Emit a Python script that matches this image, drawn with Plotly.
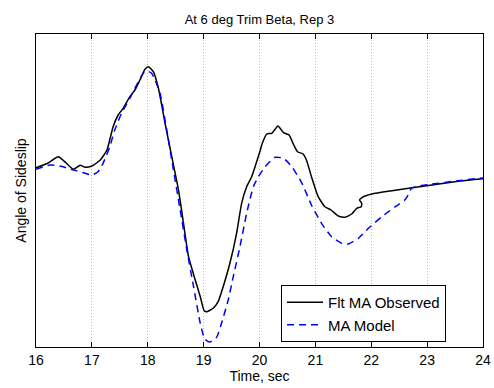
import plotly.graph_objects as go

t_obs = [16.0, 16.20, 16.40, 16.54, 16.67, 16.79, 16.88, 17.00, 17.15, 17.27, 17.38, 17.47,
         17.56, 17.68, 17.77, 17.86, 17.95, 18.01, 18.10, 18.19, 18.31, 18.43, 18.55, 18.64,
         18.73, 18.85, 18.94, 19.01, 19.06, 19.17, 19.26, 19.35, 19.47, 19.59, 19.68, 19.77,
         19.86, 19.93, 20.01, 20.05, 20.13, 20.22, 20.33, 20.43, 20.53, 20.60, 20.68, 20.78,
         20.84, 20.93, 21.05, 21.17, 21.28, 21.41, 21.53, 21.65, 21.74, 21.82, 21.83, 21.79,
         21.84, 22.01, 22.37, 22.96, 23.59, 24.00]
b_obs = [17.93, 18.35, 19.03, 18.40, 17.77, 18.17, 17.97, 18.10, 18.70, 19.70, 22.03, 23.20,
         23.87, 25.03, 25.70, 26.70, 27.77, 28.03, 27.53, 25.90, 22.37, 19.03, 15.70, 12.37,
         9.03, 6.70, 5.03, 3.63, 3.53, 3.87, 4.53, 6.03, 8.37, 11.37, 14.37, 16.03,
         17.03, 18.20, 19.60, 20.37, 21.30, 21.37, 22.10, 21.43, 21.20, 20.37, 19.53, 19.30,
         18.70, 17.03, 15.03, 14.03, 13.70, 13.10, 12.97, 13.30, 13.87, 14.03, 14.37, 14.70,
         14.97, 15.30, 15.63, 16.10, 16.60, 16.83]

# Model output
t_mod = [16.0, 16.25, 16.43, 16.67, 16.88, 17.00, 17.11, 17.20, 17.32, 17.41, 17.53, 17.68,
         17.80, 17.92, 17.98, 18.07, 18.22, 18.34, 18.46, 18.58, 18.70, 18.82, 18.94, 19.02,
         19.11, 19.23, 19.32, 19.44, 19.53, 19.65, 19.77, 19.89, 19.98, 20.10, 20.28, 20.43,
         20.58, 20.76, 20.93, 21.11, 21.29, 21.47, 21.59, 21.77, 21.95, 22.19, 22.43, 22.60,
         22.66, 22.72, 22.84, 22.96, 23.59, 24.00]
b_mod = [17.77, 18.20, 18.10, 17.70, 17.37, 17.20, 17.53, 18.37, 20.03, 21.70, 23.37, 24.87,
         26.20, 27.37, 27.60, 27.37, 25.37, 21.70, 17.70, 13.70, 9.70, 6.03, 2.37, 0.80,
         0.50, 0.95, 2.37, 4.70, 7.03, 10.03, 13.37, 16.03, 17.03, 18.03, 18.97, 18.87,
         18.03, 16.37, 14.20, 12.37, 11.03, 10.37, 10.30, 10.87, 11.87, 13.03, 14.03, 14.70,
         15.20, 15.87, 16.10, 16.20, 16.65, 16.90]

x_ticks = [16, 17, 18, 19, 20, 21, 22, 23, 24]

fig = go.Figure()
fig.add_trace(go.Scatter(x=t_obs, y=b_obs, mode="lines", name="Flt MA Observed",
                         line=dict(color="black", width=1.5, shape="spline", smoothing=0.5)))
fig.add_trace(go.Scatter(x=t_mod, y=b_mod, mode="lines", name="MA Model",
                         line=dict(color="#0000ff", width=1.5, dash="7px,5px",
                                   shape="spline", smoothing=0.5)))

font = "Liberation Sans, Arial, Helvetica, sans-serif"
fig.update_layout(
    width=494, height=388,
    margin=dict(l=36, r=11, t=34, b=41),
    paper_bgcolor="white", plot_bgcolor="white",
    font=dict(family=font, size=14, color="black"),
    title=dict(text="At 6 deg Trim Beta, Rep 3", x=0.5, xref="paper", xanchor="center",
               y=1 - 19.5 / 388, yanchor="middle", font=dict(size=13)),
    xaxis=dict(range=[16, 24], tickvals=x_ticks, ticktext=[str(v) for v in x_ticks],
               showgrid=True, gridcolor="#bcbcbc", griddash="1px,2px", gridwidth=1,
               ticks="inside", ticklen=5, tickcolor="black", showline=True,
               linecolor="black", linewidth=1, mirror="ticks", zeroline=False,
               automargin=False,
               title=dict(text="Time, sec", standoff=3, font=dict(size=14)),
               tickfont=dict(size=14)),
    yaxis=dict(range=[0, 31.3], showticklabels=False, ticks="", showgrid=False,
               showline=True, linecolor="black", linewidth=1, mirror=True, zeroline=False,
               automargin=False,
               title=dict(text="Angle of Sideslip", standoff=5, font=dict(size=14))),
    legend=dict(x=(281 - 36) / 447, y=(347 - 342) / 313, xanchor="left", yanchor="bottom",
                bgcolor="white", bordercolor="black", borderwidth=1,
                font=dict(size=15), tracegroupgap=0, itemwidth=36),
    showlegend=True,
)

fig.write_html("out.html", config={"displayModeBar": False},
               post_script="document.body.style.margin='0';document.body.style.overflow='hidden';")
